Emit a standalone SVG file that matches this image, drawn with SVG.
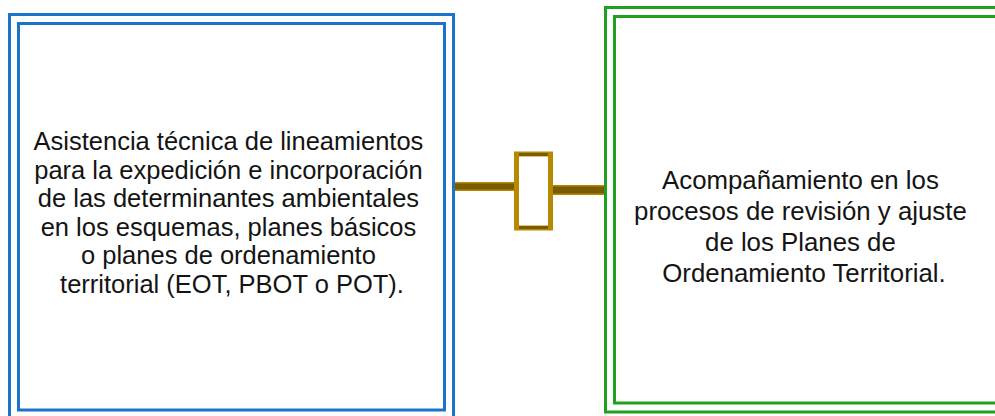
<svg xmlns="http://www.w3.org/2000/svg" width="995" height="416" viewBox="0 0 995 416">
<style>
.blue{fill:none;stroke:#1b74cc;stroke-width:3}
.green{fill:none;stroke:#1fa01f;stroke-width:3}
.t{font-family:"Liberation Sans",Arial,sans-serif;font-size:25.5px;fill:#141414;text-anchor:middle}
.edge{stroke:#b58a00;fill:none}
.core{stroke:#7a5b00;fill:none}
</style>
<rect width="995" height="416" fill="#ffffff"/>
<g id="node-left">
<rect class="blue" x="9.5" y="14.5" width="444" height="410"/>
<rect class="blue" x="18.5" y="23.5" width="426" height="386.5"/>
<text class="t">
<tspan x="232" y="150">Asistencia técnica de lineamientos</tspan>
<tspan x="232" y="178.6">para la expedición e incorporación</tspan>
<tspan x="232" y="207.2">de las determinantes ambientales</tspan>
<tspan x="232" y="235.8">en los esquemas, planes básicos</tspan>
<tspan x="232" y="264.4">o planes de ordenamiento</tspan>
<tspan x="232" y="293">territorial (EOT, PBOT o POT).</tspan>
</text>
</g>
<g id="node-right">
<rect class="green" x="605.5" y="7.5" width="400" height="404.5"/>
<rect class="green" x="614.5" y="16.5" width="382" height="386.5"/>
<text class="t" style="font-size:25.8px">
<tspan x="804" y="189">Acompañamiento en los</tspan>
<tspan x="804" y="220">procesos de revisión y ajuste</tspan>
<tspan x="804" y="251">de los Planes de</tspan>
<tspan x="804" y="282">Ordenamiento Territorial.</tspan>
</text>
</g>
<g id="connectors">
<line class="edge" x1="455" y1="186.5" x2="516" y2="186.5" stroke-width="9"/>
<line class="core" x1="455" y1="186.5" x2="516" y2="186.5" stroke-width="6"/>
<line class="edge" x1="551" y1="190" x2="604" y2="190" stroke-width="10"/>
<line class="core" x1="551" y1="190" x2="604" y2="190" stroke-width="7"/>
<rect class="edge" x="516.5" y="154" width="34" height="74" stroke-width="5"/>
<line class="core" x1="519" y1="154.5" x2="548" y2="154.5" stroke-width="3"/>
<line class="core" x1="519" y1="227.5" x2="548" y2="227.5" stroke-width="3"/>
</g>
</svg>
